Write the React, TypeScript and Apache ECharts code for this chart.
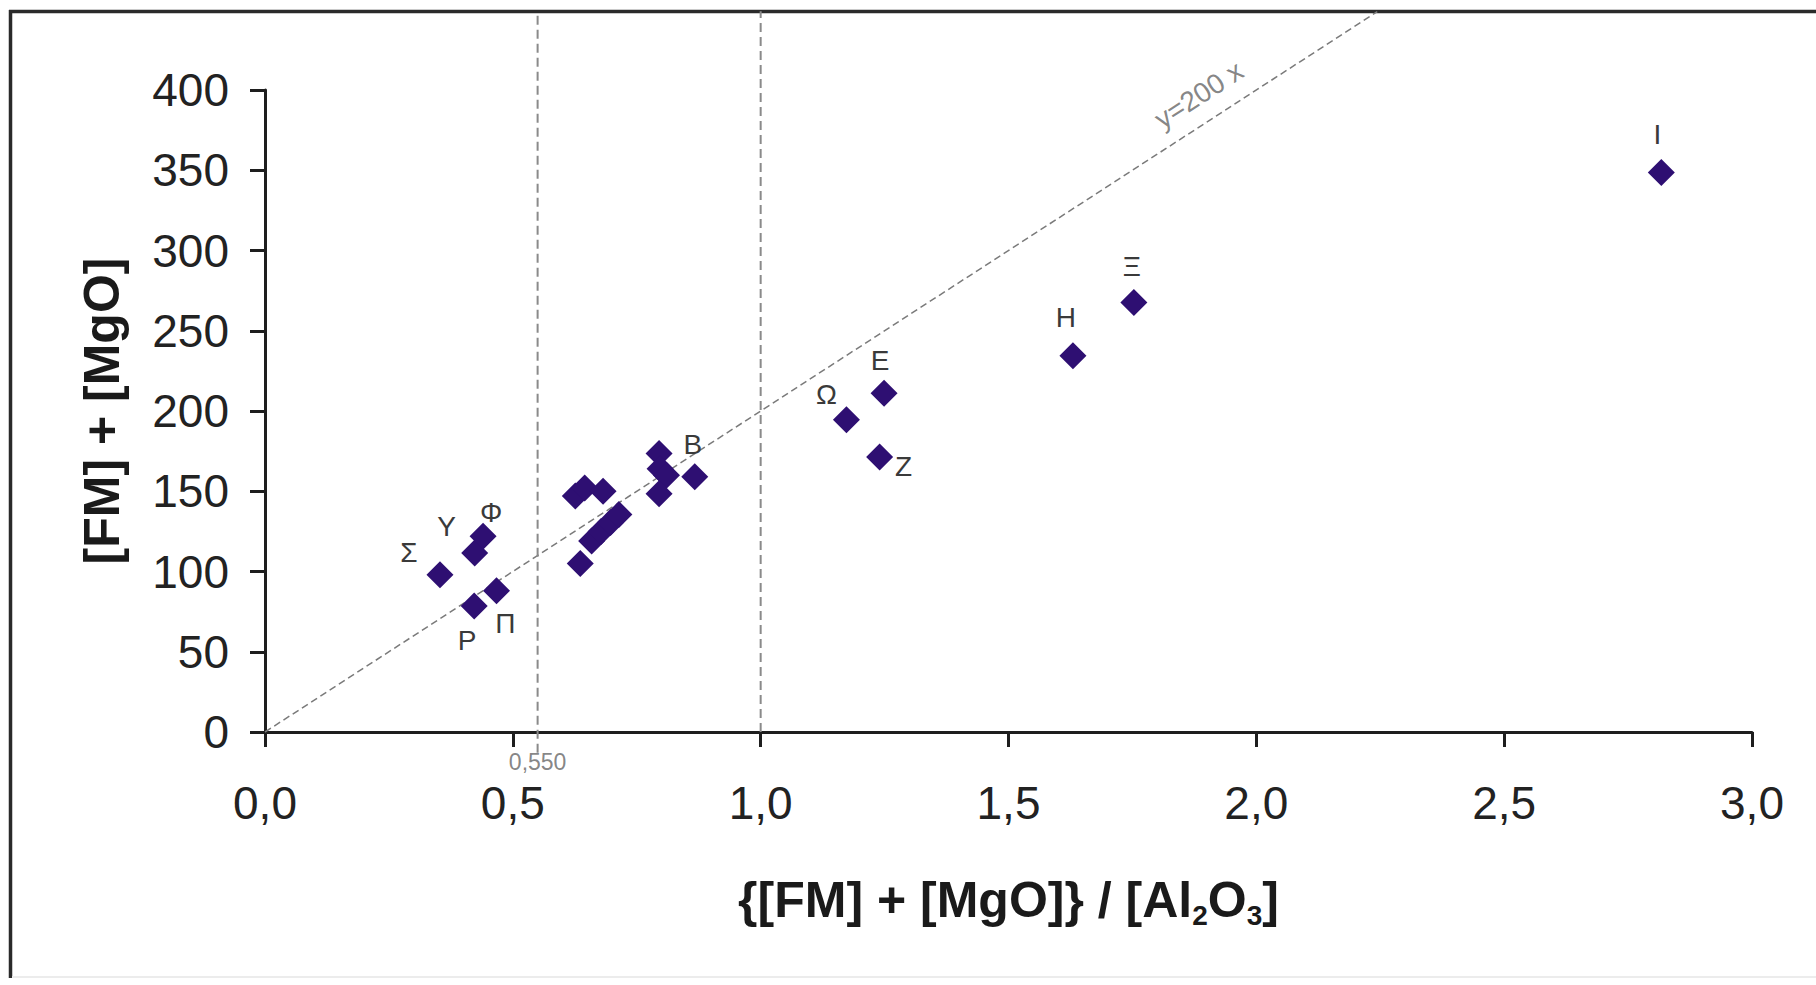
import React, { useEffect, useRef } from "react";
import * as echarts from "echarts";

// ---- data ----
const pointLabels = [
  "Σ", "Υ", "Φ", "Ρ", "Π",
  "", "", "", "", "", "", "", "",
  "", "", "", "",
  "Β", "Ω", "Ε", "Ζ", "Η", "Ξ", "Ι",
];
const pointX = [
  0.353, 0.423, 0.44, 0.422, 0.467,
  0.626, 0.645, 0.682, 0.636, 0.659, 0.678, 0.697, 0.714,
  0.795, 0.797, 0.81, 0.795,
  0.867, 1.173, 1.249, 1.24, 1.63, 1.753, 2.817,
];
const pointY = [
  98, 111.5, 122, 78.5, 88,
  147, 152, 150, 105, 119, 125, 130.5, 135.5,
  173.5, 164, 160, 148.5,
  159, 194.5, 211, 171.3, 234.4, 267.6, 348.6,
];

// reference lines (data units)
const diagSlope = 200;
const diagEndX = 2.244;
const boundaryX = [0.55, 1.0];
const boundaryBottom = [-13, 0];
const frameTopValue = 449;

// annotations (data units)
const annotText = ["0,550", "y=200 x"];
const annotX = [0.55, 1.884];
const annotY = [-19, 397];

const xMin = 0, xMax = 3, xStep = 0.5;
const yMin = 0, yMax = 400, yStep = 50;

// ---- styles ----
const FONT = "'Liberation Sans', Arial, Helvetica, sans-serif";
const labelOffsets: Record<string, [number, number]> = {
  "Σ": [-31, -22],
  "Υ": [-28, -27],
  "Φ": [8, -24],
  "Ρ": [-7, 34],
  "Π": [9, 33],
  "Β": [-2, -32],
  "Ω": [-20, -25],
  "Ε": [-4, -33],
  "Ζ": [24, 9],
  "Η": [-7, -38],
  "Ξ": [-2, -36],
  "Ι": [-4, -38],
};
const annotRotate = [0, 33];
const annotSize = [23, 28];
const annotLineHeight = [18, 30];

export default function App() {
  const ref = useRef<HTMLDivElement>(null);
  useEffect(() => {
    if (!ref.current) return;
    const chart = echarts.init(ref.current, undefined, { renderer: "svg" });

    const pts = pointX.map((x, i) => {
      const lab = pointLabels[i];
      const off = labelOffsets[lab];
      return {
        value: [x, pointY[i]],
        name: lab,
        label: lab
          ? { show: true, offset: off || [0, -30] }
          : { show: false },
      };
    });

    const axisColor = "#1e1e1e";

    const option: any = {
      animation: false,
      backgroundColor: "#ffffff",
      grid: { left: 265, right: 64, top: 90, bottom: 253 },
      xAxis: {
        type: "value",
        min: xMin,
        max: xMax,
        interval: xStep,
        axisLine: { show: true, onZero: false, lineStyle: { color: axisColor, width: 3 } },
        axisTick: { show: true, length: 15, lineStyle: { color: axisColor, width: 3 } },
        splitLine: { show: false },
        axisLabel: {
          fontSize: 46,
          lineHeight: 36,
          color: "#222",
          fontFamily: FONT,
          margin: 53,
          formatter: (v: number) => v.toFixed(1).replace(".", ","),
        },
        name: "{[FM] + [MgO]} / [Al{sub|2}O{sub|3}]",
        nameLocation: "middle",
        nameGap: 139,
        nameTextStyle: {
          fontSize: 50,
          fontWeight: "bold",
          color: "#1a1a1a",
          fontFamily: FONT,
          rich: {
            sub: {
              fontSize: 28,
              fontWeight: "bold",
              color: "#1a1a1a",
              fontFamily: FONT,
              padding: [30, 0, 0, 0],
            },
          },
        },
      },
      yAxis: {
        type: "value",
        min: yMin,
        max: yMax,
        interval: yStep,
        axisLine: { show: true, onZero: false, lineStyle: { color: axisColor, width: 3 } },
        axisTick: { show: true, length: 15, lineStyle: { color: axisColor, width: 3 } },
        splitLine: { show: false },
        axisLabel: { fontSize: 46, color: "#222", fontFamily: FONT, margin: 36 },
        name: "[FM] + [MgO]",
        nameLocation: "middle",
        nameGap: 138,
        nameTextStyle: {
          fontSize: 50,
          fontWeight: "bold",
          color: "#1a1a1a",
          fontFamily: FONT,
        },
      },
      graphic: [
        { type: "line", shape: { x1: 10.5, y1: 10, x2: 10.5, y2: 978 }, style: { stroke: "#2a2a2a", lineWidth: 3.5 } },
        { type: "line", shape: { x1: 9, y1: 11.5, x2: 1816, y2: 11.5 }, style: { stroke: "#2a2a2a", lineWidth: 3.5 } },
        { type: "line", shape: { x1: 12, y1: 977, x2: 1816, y2: 977 }, style: { stroke: "#ececec", lineWidth: 2 } },
      ],
      series: [
        {
          type: "line",
          name: "y=200x",
          data: [[0, 0], [diagEndX, diagSlope * diagEndX]],
          showSymbol: false,
          symbol: "none",
          clip: false,
          silent: true,
          lineStyle: { color: "#7a7a7a", width: 1.5, type: [7, 4] },
          z: 1,
        },
        ...boundaryX.map((bx, i) => ({
          type: "line",
          name: "boundary " + bx,
          data: [[bx, boundaryBottom[i]], [bx, frameTopValue]],
          showSymbol: false,
          symbol: "none",
          clip: false,
          silent: true,
          lineStyle: { color: "#8a8a8a", width: 2, type: [9, 5] },
          z: 1,
        })),
        {
          type: "scatter",
          name: "samples",
          symbol: "diamond",
          symbolSize: 27,
          itemStyle: { color: "#2e0f72", opacity: 1 },
          label: {
            show: true,
            position: "inside",
            formatter: "{b}",
            fontSize: 28,
            color: "#3a3a3a",
            fontFamily: FONT,
          },
          data: pts,
          z: 3,
        },
        {
          type: "scatter",
          name: "annotations",
          symbolSize: 1,
          clip: false,
          silent: true,
          itemStyle: { color: "rgba(0,0,0,0)" },
          label: {
            show: true,
            position: "inside",
            formatter: "{b}",
            color: "#666",
            fontFamily: FONT,
          },
          data: annotText.map((t, i) => ({
            value: [annotX[i], annotY[i]],
            name: t,
            label: { rotate: annotRotate[i], fontSize: annotSize[i], lineHeight: annotLineHeight[i] },
          })),
          z: 2,
        },
      ],
    };

    chart.setOption(option);
    return () => chart.dispose();
  }, []);

  return (
    <div
      ref={ref}
      style={{ position: "absolute", left: 0, top: 0, width: 1816, height: 985, background: "#fff" }}
    />
  );
}
